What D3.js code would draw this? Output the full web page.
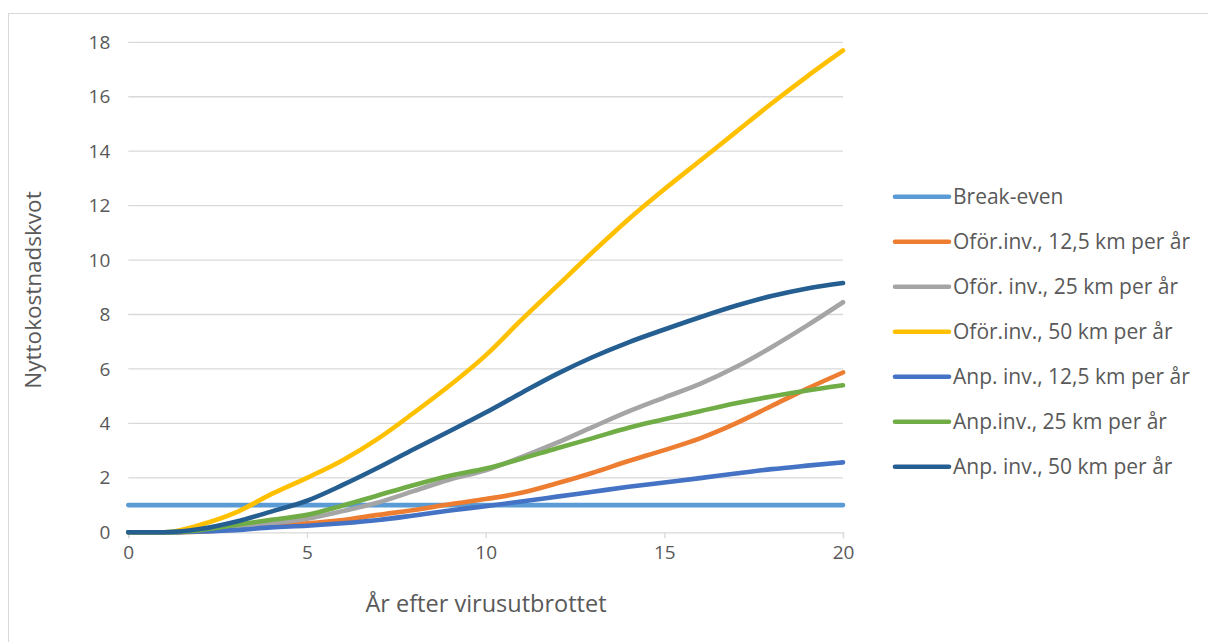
<!DOCTYPE html>
<html><head><meta charset="utf-8">
<script src="https://cdn.jsdelivr.net/npm/d3@7"></script>
<style>
html,body{margin:0;padding:0;background:#fff;}
svg{display:block;}
text{font-family:"Open Sans",sans-serif;fill:#595959;}
</style></head>
<body>
<script>
const years = d3.range(0, 21);
const seriesNames = ["Break-even","Oför.inv., 12,5 km per år","Oför. inv., 25 km per år","Oför.inv., 50 km per år","Anp. inv., 12,5 km per år","Anp.inv., 25 km per år","Anp. inv., 50 km per år"];
const breakEven = [1,1,1,1,1,1,1,1,1,1,1,1,1,1,1,1,1,1,1,1,1];
const oforInv125 = [0,0,0.02,0.12,0.25,0.33,0.45,0.64,0.82,1.03,1.22,1.45,1.8,2.19,2.62,3.02,3.45,4.0,4.64,5.28,5.87];
const oforInv25 = [0,0,0.05,0.18,0.33,0.5,0.78,1.1,1.52,1.94,2.28,2.76,3.29,3.87,4.44,4.95,5.45,6.07,6.8,7.6,8.45];
const oforInv50 = [0,0,0.27,0.72,1.4,2.0,2.65,3.45,4.4,5.4,6.5,7.8,9.05,10.3,11.5,12.6,13.65,14.7,15.75,16.75,17.7];
const anpInv125 = [0,0,0.03,0.08,0.18,0.24,0.33,0.45,0.62,0.8,0.96,1.13,1.31,1.49,1.67,1.83,1.99,2.16,2.32,2.45,2.57];
const anpInv25 = [0,0,0.08,0.27,0.46,0.64,0.98,1.36,1.74,2.08,2.34,2.7,3.09,3.46,3.84,4.15,4.45,4.74,4.99,5.21,5.4];
const anpInv50 = [0,0,0.12,0.39,0.76,1.16,1.74,2.38,3.06,3.72,4.4,5.12,5.82,6.44,6.98,7.45,7.9,8.32,8.68,8.96,9.16];
const yTicks = [0,2,4,6,8,10,12,14,16,18];
const xTicks = [0,5,10,15,20];
const colors = ["#5B9BD5","#ED7D31","#A5A5A5","#FFC000","#4472C4","#70AD47","#255E91"];
const allSeries = [breakEven,oforInv125,oforInv25,oforInv50,anpInv125,anpInv25,anpInv50];

const W = 1208, H = 642;
const svg = d3.select("body").append("svg").attr("width", W).attr("height", H);

// outer chart border
svg.append("rect").attr("x", 8.5).attr("y", 13.5).attr("width", 1240).attr("height", 700)
  .attr("fill", "none").attr("stroke", "#D9D9D9").attr("stroke-width", 1);

const x = d3.scaleLinear().domain([0, 20]).range([128.3, 843]);
const y = d3.scaleLinear().domain([0, 18]).range([532.3, 42.3]);

// gridlines
svg.append("g").selectAll("line").data(yTicks.filter(d => d > 0)).join("line")
  .attr("x1", x(0)).attr("x2", x(20))
  .attr("y1", d => y(d)).attr("y2", d => y(d))
  .attr("stroke", "#D9D9D9").attr("stroke-width", 1.3);

// x axis
const xAxis = svg.append("g").attr("transform", `translate(0,${y(0)})`)
  .call(d3.axisBottom(x).tickValues(xTicks).tickSize(6).tickPadding(7).tickFormat(d3.format("d")));
xAxis.select(".domain").attr("stroke", "#D9D9D9").attr("stroke-width", 1.3);
xAxis.selectAll(".tick line").attr("stroke", "#D9D9D9").attr("stroke-width", 1.3);
xAxis.selectAll("text").attr("font-size", 19).attr("fill", "#595959").attr("font-family", "Open Sans");

// y axis labels
const yAxis = svg.append("g").attr("transform", `translate(${x(0)},0)`)
  .call(d3.axisLeft(y).tickValues(yTicks).tickSize(0).tickPadding(18).tickFormat(d3.format("d")));
yAxis.select(".domain").remove();
yAxis.selectAll("text").attr("font-size", 19).attr("fill", "#595959").attr("font-family", "Open Sans");

// lines
const line = d3.line().x((d, i) => x(years[i])).y(d => y(d)).curve(d3.curveMonotoneX);
svg.append("g").selectAll("path").data(allSeries).join("path")
  .attr("d", d => line(d))
  .attr("fill", "none")
  .attr("stroke", (d, i) => colors[i])
  .attr("stroke-width", 4.6)
  .attr("stroke-linejoin", "round")
  .attr("stroke-linecap", "round");

// axis titles
svg.append("text").attr("x", 486).attr("y", 612).attr("text-anchor", "middle")
  .attr("font-size", 23.5).text("År efter virusutbrottet");
svg.append("text").attr("transform", "translate(41,290) rotate(-90)").attr("text-anchor", "middle")
  .attr("font-size", 22.5).text("Nyttokostnadskvot");

// legend
const lg = svg.append("g").selectAll("g").data(seriesNames).join("g")
  .attr("transform", (d, i) => `translate(0,${196.7 + i * 45})`);
lg.append("line").attr("x1", 895).attr("x2", 949).attr("y1", 0).attr("y2", 0)
  .attr("stroke", (d, i) => colors[i]).attr("stroke-width", 4.6).attr("stroke-linecap", "round");
lg.append("text").attr("x", 953).attr("y", 0).attr("dy", "0.35em")
  .attr("font-size", 21).text(d => d);
</script>
</body></html>
